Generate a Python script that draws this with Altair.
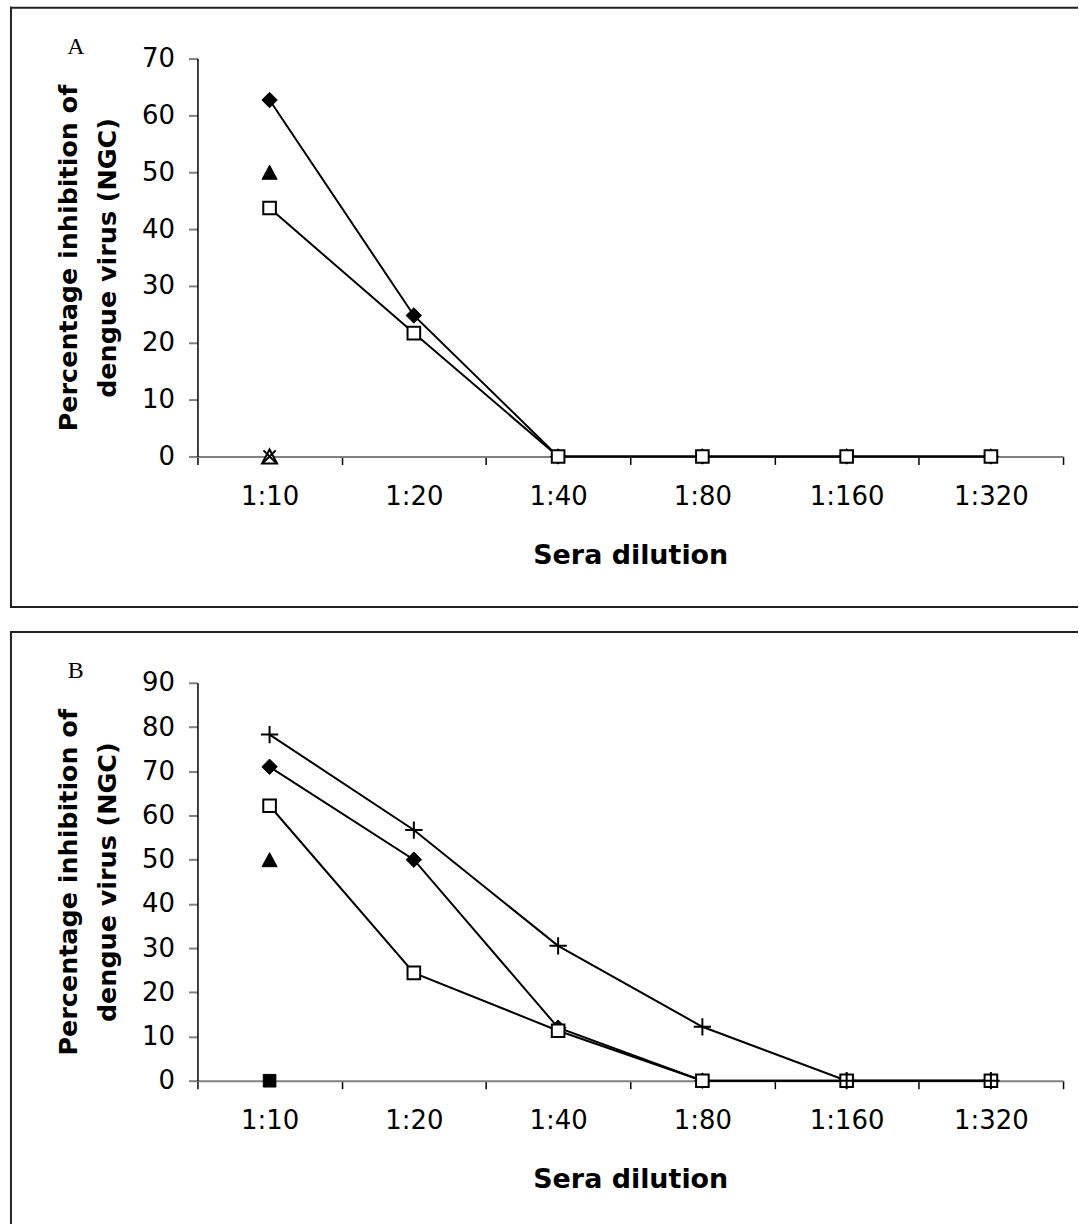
import altair as alt
import pandas as pd

# ---------------- data ----------------
dilutions = ["1:10", "1:20", "1:40", "1:80", "1:160", "1:320"]

# Panel A
a_diamond = [62.7, 24.8, 0, 0, 0, 0]
a_square = [43.7, 21.7, 0, 0, 0, 0]
a_tri_filled = [50.0]
a_tri_open = [0.0]
a_cross = [0.0]

# Panel B
b_plus = [78.3, 56.7, 30.5, 12.2, 0, 0]
b_diamond = [71.0, 50.0, 12.0, 0, 0, 0]
b_square = [62.2, 24.4, 11.3, 0, 0, 0]
b_tri_filled = [50.0]
b_square_filled = [0.0]
b_cross = [0.0]

y_title = ["Percentage inhibition of", "dengue virus (NGC)"]
x_title = "Sera dilution"

# ---------------- styling ----------------
W, H = 868, 399
FONT = "DejaVu Sans"
PLUS = "M-1,0L1,0M0,-1L0,1"
XSHAPE = "M-1,-1L1,1M-1,1L1,-1"
TRI = "M0,-0.93L1,0.93L-1,0.93Z"
BX0, BX1, BY0, BY1 = -187, 882, -51, 550


def df(vals):
    return pd.DataFrame({"dilution": dilutions[: len(vals)], "value": vals})


def x_enc():
    return alt.X(
        "dilution:N",
        sort=dilutions,
        bandPosition=0.5,
        scale=alt.Scale(type="band", domain=dilutions, paddingInner=0, paddingOuter=0),
        axis=alt.Axis(
            title=x_title,
            titleFont=FONT,
            titleFontSize=27,
            titleFontWeight="bold",
            titleColor="black",
            titleX=W / 2,
            titleY=99,
            titleBaseline="middle",
            titleAlign="center",
            labelAngle=0,
            labelFont=FONT,
            labelFontSize=26,
            labelColor="black",
            labelBaseline="middle",
            labelPadding=32,
            tickBand="extent",
            tickColor="black",
            tickWidth=1.5,
            tickSize=8,
            domainColor="#808080",
            domainWidth=2,
            grid=False,
        ),
    )


def y_enc(ymax):
    return alt.Y(
        "value:Q",
        scale=alt.Scale(domain=[0, ymax], nice=False),
        axis=alt.Axis(
            values=list(range(0, ymax + 1, 10)),
            title=y_title,
            titleFont=FONT,
            titleFontSize=25.5,
            titleFontWeight="bold",
            titleColor="black",
            titleAngle=270,
            titleX=-129,
            titleY=H / 2,
            titleBaseline="middle",
            titleAlign="center",
            titleLineHeight=39,
            labelFont=FONT,
            labelFontSize=26,
            labelColor="black",
            labelPadding=14,
            tickSize=9,
            tickColor="#808080",
            tickWidth=2,
            domainColor="black",
            domainWidth=1.5,
            grid=False,
        ),
    )


def line(vals, ymax):
    return alt.Chart(df(vals)).mark_line(color="black", strokeWidth=2).encode(
        x=x_enc(), y=y_enc(ymax)
    )


def pts(vals, ymax, shape, size, fill, stroke="black", sw=1.0):
    return alt.Chart(df(vals)).mark_point(
        shape=shape, size=size, filled=True, fill=fill, stroke=stroke,
        strokeWidth=sw, opacity=1, fillOpacity=1
    ).encode(x=x_enc(), y=y_enc(ymax))


def stroke_pts(vals, ymax, shape, size):
    return alt.Chart(df(vals)).mark_point(
        shape=shape, size=size, filled=False, color="black", strokeWidth=2, opacity=1
    ).encode(x=x_enc(), y=y_enc(ymax))


def decor(letter):
    one = alt.Data(values=[{"k": 1}])
    rule = dict(color="#222222", strokeWidth=2, strokeCap="square")
    top = alt.Chart(one).mark_rule(**rule).encode(
        x=alt.value(BX0), x2=alt.value(BX1), y=alt.value(BY0)
    )
    bottom = alt.Chart(one).mark_rule(**rule).encode(
        x=alt.value(BX0), x2=alt.value(BX1), y=alt.value(BY1)
    )
    left = alt.Chart(one).mark_rule(**rule).encode(
        x=alt.value(BX0), y=alt.value(BY0), y2=alt.value(BY1)
    )
    txt = alt.Chart(one).mark_text(
        text=letter, font="Liberation Serif", fontSize=24, color="black",
        align="center", baseline="middle"
    ).encode(x=alt.value(-122), y=alt.value(-12))
    return [top, bottom, left, txt]


ymax_a = 70
panel_a = alt.layer(
    *decor("A"),
    line(a_diamond, ymax_a),
    line(a_square, ymax_a),
    pts(a_diamond, ymax_a, "diamond", 240, "black"),
    pts(a_tri_filled, ymax_a, TRI, 230, "black"),
    pts(a_tri_open, ymax_a, TRI, 230, "white", "black", 2),
    stroke_pts(a_cross, ymax_a, XSHAPE, 150),
    pts(a_square, ymax_a, "square", 160, "white", "black", 2),
).properties(width=W, height=H)

ymax_b = 90
panel_b = alt.layer(
    *decor("B"),
    line(b_plus, ymax_b),
    line(b_diamond, ymax_b),
    line(b_square, ymax_b),
    pts(b_diamond, ymax_b, "diamond", 240, "black"),
    pts(b_tri_filled, ymax_b, TRI, 230, "black"),
    pts(b_square_filled, ymax_b, "square", 160, "black"),
    stroke_pts(b_cross, ymax_b, XSHAPE, 150),
    pts(b_square, ymax_b, "square", 160, "white", "black", 2),
    stroke_pts(b_plus, ymax_b, PLUS, 300),
).properties(width=W, height=H)

chart = (
    alt.vconcat(panel_a, panel_b, spacing=21)
    .properties(padding={"left": 9, "top": 4, "right": 0, "bottom": 0})
    .configure(background="white")
    .configure_view(stroke="transparent")
)

chart.save("out.html", embed_options={"renderer": "svg", "actions": False})
